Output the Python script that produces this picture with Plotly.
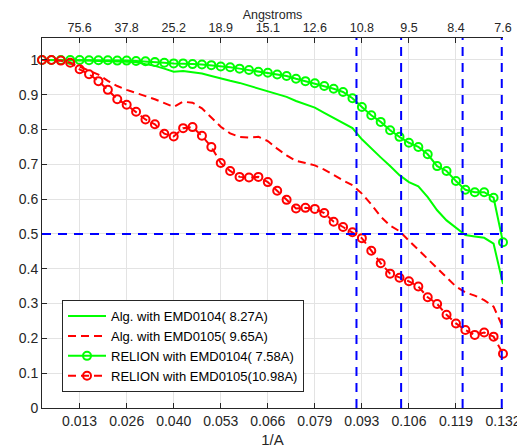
import plotly.graph_objects as go

# Spatial frequency of each Fourier shell (1/A)
spatial_freq = [0.002646, 0.005291, 0.007937, 0.010582, 0.013228, 0.015873, 0.018519, 0.021164, 0.023810, 0.026455,
                0.029101, 0.031746, 0.034392, 0.037037, 0.039683, 0.042328, 0.044974, 0.047619, 0.050265, 0.052910,
                0.055556, 0.058201, 0.060847, 0.063492, 0.066138, 0.068783, 0.071429, 0.074074, 0.076720, 0.079365,
                0.082011, 0.084656, 0.087302, 0.089947, 0.092593, 0.095238, 0.097884, 0.100529, 0.103175, 0.105820,
                0.108466, 0.111111, 0.113757, 0.116402, 0.119048, 0.121693, 0.124339, 0.126984, 0.129630, 0.132275]

alg_emd0104 = [1.000, 1.000, 0.999, 0.999, 0.998, 0.998, 0.997, 0.997, 0.996, 0.995,
               0.993, 0.988, 0.983, 0.975, 0.966, 0.968, 0.965, 0.961, 0.954, 0.946,
               0.940, 0.934, 0.926, 0.920, 0.912, 0.902, 0.894, 0.882, 0.872, 0.863,
               0.848, 0.833, 0.819, 0.804, 0.772, 0.745, 0.720, 0.695, 0.669, 0.649,
               0.637, 0.606, 0.568, 0.539, 0.517, 0.497, 0.493, 0.489, 0.472, 0.356]

alg_emd0105 = [1.000, 1.000, 0.998, 0.992, 0.980, 0.969, 0.958, 0.940, 0.925, 0.914,
               0.906, 0.896, 0.887, 0.875, 0.865, 0.880, 0.877, 0.861, 0.835, 0.808,
               0.789, 0.779, 0.777, 0.779, 0.767, 0.745, 0.726, 0.710, 0.704, 0.697,
               0.685, 0.669, 0.654, 0.640, 0.616, 0.585, 0.550, 0.524, 0.508, 0.481,
               0.454, 0.428, 0.403, 0.375, 0.349, 0.332, 0.323, 0.310, 0.291, 0.231]

relion_emd0104 = [1.000, 1.000, 1.000, 1.000, 1.000, 0.999, 0.999, 0.999, 0.998, 0.998,
                  0.997, 0.996, 0.994, 0.992, 0.990, 0.990, 0.988, 0.987, 0.985, 0.981,
                  0.979, 0.975, 0.971, 0.966, 0.963, 0.958, 0.954, 0.946, 0.939, 0.933,
                  0.925, 0.917, 0.908, 0.890, 0.865, 0.841, 0.822, 0.798, 0.779, 0.762,
                  0.750, 0.729, 0.695, 0.681, 0.652, 0.627, 0.620, 0.620, 0.604, 0.476]

relion_emd0105 = [1.000, 1.000, 0.998, 0.992, 0.973, 0.959, 0.939, 0.914, 0.887, 0.871,
                  0.851, 0.829, 0.815, 0.788, 0.780, 0.804, 0.807, 0.782, 0.750, 0.704,
                  0.681, 0.664, 0.662, 0.664, 0.649, 0.624, 0.598, 0.573, 0.575, 0.572,
                  0.560, 0.535, 0.520, 0.505, 0.488, 0.452, 0.416, 0.386, 0.374, 0.364,
                  0.349, 0.318, 0.299, 0.268, 0.243, 0.224, 0.210, 0.217, 0.205, 0.156]

series_names = ["Alg. with EMD0104( 8.27A)", "Alg. with EMD0105( 9.65A)",
                "RELION with EMD0104( 7.58A)", "RELION with EMD0105(10.98A)"]

# Resolutions (A) where the curves cross the threshold
resolutions = [10.98, 9.65, 8.27, 7.58]
threshold = 0.5

bottom_tickvals = [0.013228, 0.026455, 0.039683, 0.052910, 0.066138,
                   0.079365, 0.092593, 0.105820, 0.119048, 0.132275]
bottom_ticktext = ["0.013", "0.026", "0.040", "0.053", "0.066",
                   "0.079", "0.093", "0.106", "0.119", "0.132"]
top_ticktext = ["75.6", "37.8", "25.2", "18.9", "15.1", "12.6", "10.8", "9.5", "8.4", "7.6"]
y_tickvals = [0, 0.1, 0.2, 0.3, 0.4, 0.5, 0.6, 0.7, 0.8, 0.9, 1.0]
y_ticktext = ["0", "0.1", "0.2", "0.3", "0.4", "0.5", "0.6", "0.7", "0.8", "0.9", "1"]

GREEN = "#00ff00"
RED = "#ff0000"
BLUE = "#0000ff"
AX = "#262626"
GRID = "#e3e3e3"
FONT = "Liberation Sans, Arial, sans-serif"

fig = go.Figure()
fig.add_trace(go.Scatter(x=spatial_freq, y=alg_emd0104, mode="lines", name=series_names[0],
                         line=dict(color=GREEN, width=2), cliponaxis=False))
fig.add_trace(go.Scatter(x=spatial_freq, y=alg_emd0105, mode="lines", name=series_names[1],
                         line=dict(color=RED, width=2, dash="8px,5px"), cliponaxis=False))
fig.add_trace(go.Scatter(x=spatial_freq, y=relion_emd0104, mode="lines+markers", name=series_names[2],
                         line=dict(color=GREEN, width=2),
                         marker=dict(symbol="circle-open", size=8, color=GREEN, line=dict(width=2, color=GREEN)),
                         cliponaxis=False))
fig.add_trace(go.Scatter(x=spatial_freq, y=relion_emd0105, mode="lines+markers", name=series_names[3],
                         line=dict(color=RED, width=2, dash="8px,5px"),
                         marker=dict(symbol="circle-open", size=8, color=RED, line=dict(width=2, color=RED)),
                         cliponaxis=False))
# invisible trace to activate the top axis
fig.add_trace(go.Scatter(x=[spatial_freq[0], spatial_freq[-1]], y=[threshold, threshold], xaxis="x2",
                         mode="markers", marker=dict(opacity=0), showlegend=False, hoverinfo="skip"))

for r in resolutions:
    fig.add_shape(type="line", xref="x", yref="paper", x0=1 / r, x1=1 / r, y0=0, y1=1,
                  line=dict(color=BLUE, width=2, dash="9px,7px"), layer="above")
fig.add_shape(type="line", xref="paper", yref="y", x0=0, x1=1, y0=threshold, y1=threshold,
              line=dict(color=BLUE, width=2, dash="9px,7px"), layer="above")

xr = [spatial_freq[0], spatial_freq[-1]]
# the page body has an 8px margin, so the figure is sized to end at the window edge
fig.update_layout(
    width=517, height=440,
    margin=dict(l=34, r=22, t=30, b=40),
    paper_bgcolor="white", plot_bgcolor="white",
    font=dict(family=FONT, color=AX, size=13),
    showlegend=True,
    legend=dict(x=0.0434, y=0.043, xanchor="left", yanchor="bottom",
                bgcolor="white", bordercolor=AX, borderwidth=1,
                font=dict(family=FONT, size=13, color="black"),
                tracegroupgap=0, itemwidth=38),
    xaxis=dict(range=xr, tickvals=bottom_tickvals, ticktext=bottom_ticktext, automargin=False,
               ticks="inside", ticklen=5, tickcolor=AX, showline=True, linecolor=AX, linewidth=1,
               showgrid=True, gridcolor=GRID, zeroline=False, mirror=False,
               tickfont=dict(size=14, color=AX),
               title=dict(text="1/A", font=dict(size=15, color=AX), standoff=8)),
    xaxis2=dict(range=xr, overlaying="x", side="top", anchor="y", automargin=False,
                tickvals=bottom_tickvals, ticktext=top_ticktext,
                ticks="inside", ticklen=5, tickcolor=AX, showline=True, linecolor=AX, linewidth=1,
                showgrid=False, zeroline=False,
                tickfont=dict(size=12.5, color=AX),
                title=dict(text="Angstroms", font=dict(size=12.5, color=AX), standoff=1)),
    yaxis=dict(range=[0, 1.063], tickvals=y_tickvals, ticktext=y_ticktext, automargin=False,
               ticks="inside", ticklen=5, tickcolor=AX, showline=True, linecolor=AX, linewidth=1,
               showgrid=True, gridcolor=GRID, zeroline=False,
               tickfont=dict(size=14, color=AX)),
)

fig.write_html("out.html")
